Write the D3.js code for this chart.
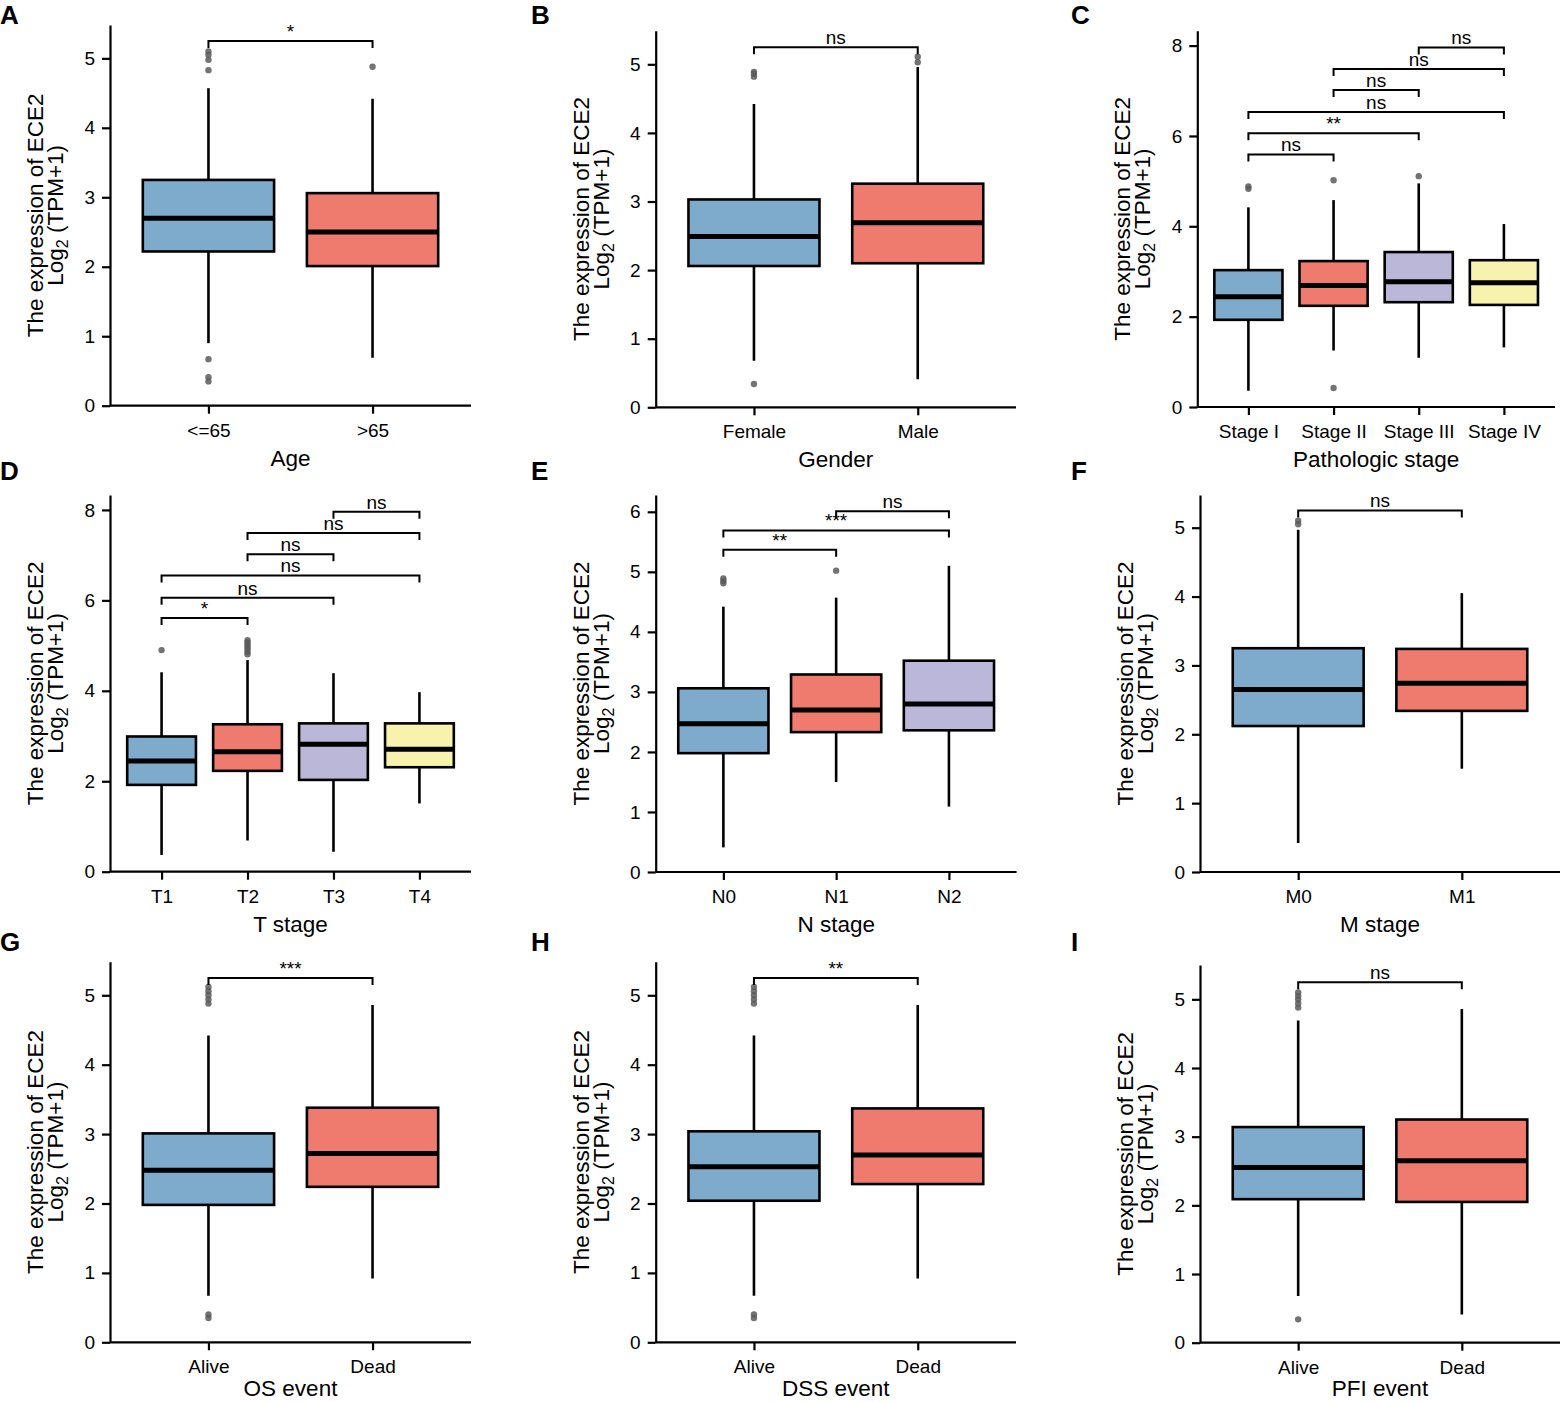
<!DOCTYPE html>
<html>
<head>
<meta charset="utf-8">
<script src="https://cdn.jsdelivr.net/npm/d3@7"></script>
<style>
  body { margin: 0; background: #fff; }
  text { font-family: "Liberation Sans", Arial, Helvetica, sans-serif; }
</style>
</head>
<body>
<script>
// box stats per group: [lower whisker, Q1, median, Q3, upper whisker]
// brackets: [group a, group b, label, y]

const ageCats = ["<=65", ">65"];
const ageBox = [[0.90, 2.22, 2.70, 3.25, 4.57], [0.69, 2.01, 2.50, 3.06, 4.42]];
const ageOut = [[5.10, 5.05, 4.98, 4.83, 0.67, 0.41, 0.35], [4.88]];
const ageSig = [[0, 1, "*", 5.25]];

const genderCats = ["Female", "Male"];
const genderBox = [[0.68, 2.06, 2.49, 3.03, 4.42], [0.41, 2.10, 2.69, 3.26, 4.96]];
const genderOut = [[4.89, 4.86, 4.82, 0.34], [5.11, 5.03]];
const genderSig = [[0, 1, "ns", 5.25]];

const stageCats = ["Stage I", "Stage II", "Stage III", "Stage IV"];
const stageBox = [[0.36, 1.93, 2.44, 3.03, 4.42], [1.25, 2.24, 2.69, 3.23, 4.58],
                  [1.09, 2.32, 2.77, 3.43, 4.95], [1.32, 2.26, 2.75, 3.25, 4.05]];
const stageOut = [[4.88, 4.83], [5.02, 0.42], [5.11], []];
const stageSig = [[0, 1, "ns", 5.59], [0, 2, "**", 6.06], [0, 3, "ns", 6.53],
                  [1, 2, "ns", 7.02], [1, 3, "ns", 7.48], [2, 3, "ns", 7.96]];

const tCats = ["T1", "T2", "T3", "T4"];
const tBox = [[0.37, 1.92, 2.45, 2.99, 4.41], [0.69, 2.23, 2.65, 3.26, 4.68],
              [0.44, 2.03, 2.82, 3.28, 4.39], [1.51, 2.31, 2.71, 3.28, 3.97]];
const tOut = [[4.90], [5.12, 5.07, 5.02, 4.97, 4.92, 4.86, 4.81], [], []];
const tSig = [[0, 1, "*", 5.61], [0, 2, "ns", 6.06], [0, 3, "ns", 6.55],
              [1, 2, "ns", 7.02], [1, 3, "ns", 7.49], [2, 3, "ns", 7.96]];

const nCats = ["N0", "N1", "N2"];
const nBox = [[0.41, 1.98, 2.47, 3.06, 4.42], [1.50, 2.33, 2.70, 3.29, 4.57], [1.09, 2.36, 2.80, 3.52, 5.10]];
const nOut = [[4.89, 4.85, 4.81], [5.02], []];
const nSig = [[0, 1, "**", 5.37], [0, 2, "***", 5.69], [1, 2, "ns", 6.01]];

const mCats = ["M0", "M1"];
const mBox = [[0.42, 2.12, 2.65, 3.25, 4.97], [1.50, 2.34, 2.74, 3.24, 4.05]];
const mOut = [[5.10, 5.05], []];
const mSig = [[0, 1, "ns", 5.25]];

const eventCats = ["Alive", "Dead"];
const osBox = [[0.67, 1.98, 2.48, 3.01, 4.42], [0.92, 2.24, 2.72, 3.38, 4.86]];
const osOut = [[5.12, 5.06, 5.00, 4.94, 4.88, 0.40, 0.35], []];
const osSig = [[0, 1, "***", 5.25]];

const dssBox = [[0.67, 2.04, 2.53, 3.04, 4.42], [0.92, 2.28, 2.70, 3.37, 4.86]];
const dssOut = [[5.12, 5.06, 5.00, 4.94, 4.88, 0.40, 0.35], []];
const dssSig = [[0, 1, "**", 5.25]];

const pfiBox = [[0.68, 2.09, 2.55, 3.14, 4.69], [0.41, 2.05, 2.65, 3.25, 4.86]];
const pfiOut = [[5.10, 5.05, 5.00, 4.94, 4.88, 0.34], []];
const pfiSig = [[0, 1, "ns", 5.25]];

const ticks5 = [0, 1, 2, 3, 4, 5];
const ticks6 = [0, 1, 2, 3, 4, 5, 6];
const ticks8 = [0, 2, 4, 6, 8];

const palette = ["#7EABCB", "#EF7B6F", "#BBB7D8", "#F7F3AF"];

const panels = [
  {letter: "A", title: "Age", cats: ageCats, box: ageBox, out: ageOut, sig: ageSig, ymax: 5.48, ticks: ticks5},
  {letter: "B", title: "Gender", cats: genderCats, box: genderBox, out: genderOut, sig: genderSig, ymax: 5.49, ticks: ticks5},
  {letter: "C", title: "Pathologic stage", cats: stageCats, box: stageBox, out: stageOut, sig: stageSig, ymax: 8.33, ticks: ticks8},
  {letter: "D", title: "T stage", cats: tCats, box: tBox, out: tOut, sig: tSig, ymax: 8.33, ticks: ticks8},
  {letter: "E", title: "N stage", cats: nCats, box: nBox, out: nOut, sig: nSig, ymax: 6.28, ticks: ticks6},
  {letter: "F", title: "M stage", cats: mCats, box: mBox, out: mOut, sig: mSig, ymax: 5.475, ticks: ticks5},
  {letter: "G", title: "OS event", cats: eventCats, box: osBox, out: osOut, sig: osSig, ymax: 5.484, ticks: ticks5},
  {letter: "H", title: "DSS event", cats: eventCats, box: dssBox, out: dssOut, sig: dssSig, ymax: 5.484, ticks: ticks5},
  {letter: "I", title: "PFI event", cats: eventCats, box: pfiBox, out: pfiOut, sig: pfiSig, ymax: 5.50, ticks: ticks5}
];

// plot frames (axis lines) and panel letter spots
const frames = [
  {left: 110, right: 471, top: 25, bottom: 405.7, lx: 0, ly: 24},
  {left: 655.7, right: 1016, top: 30.7, bottom: 407.3, lx: 531, ly: 24},
  {left: 1197.3, right: 1555, top: 30.7, bottom: 407, lx: 1071, ly: 24},
  {left: 110, right: 471, top: 495, bottom: 871.7, lx: 0, ly: 480},
  {left: 655.7, right: 1016.6, top: 495, bottom: 872, lx: 531, ly: 480},
  {left: 1200, right: 1560, top: 495, bottom: 872, lx: 1071, ly: 480},
  {left: 110, right: 471, top: 961.7, bottom: 1342.3, lx: 0, ly: 951},
  {left: 655.7, right: 1016, top: 961.7, bottom: 1342.3, lx: 531, ly: 951},
  {left: 1200, right: 1560, top: 965, bottom: 1342.7, lx: 1071, ly: 951}
];

const H = 1402;

const svg = d3.select("body").append("svg")
    .attr("width", 1561)
    .attr("height", H);

panels.forEach(function (p, k) {
    let f = frames[k];
    let g = svg.append("g");

    let x = d3.scalePoint().domain(p.cats).range([f.left, f.right]).padding(0.6);
    let y = d3.scaleLinear().domain([0, p.ymax]).range([f.bottom, f.top]);
    let bw = x.step() * 0.8;

    //whiskers
    g.selectAll(".whisker").data(p.box).enter().append("line")
        .attr("x1", (d, i) => x(p.cats[i]))
        .attr("x2", (d, i) => x(p.cats[i]))
        .attr("y1", d => y(d[0]))
        .attr("y2", d => y(d[4]))
        .attr("stroke", "#000")
        .attr("stroke-width", 2.6);

    //boxes
    g.selectAll(".box").data(p.box).enter().append("rect")
        .attr("x", (d, i) => x(p.cats[i]) - bw / 2)
        .attr("y", d => y(d[3]))
        .attr("width", bw)
        .attr("height", d => y(d[1]) - y(d[3]))
        .attr("fill", (d, i) => palette[i])
        .attr("stroke", "#000")
        .attr("stroke-width", 2.6);

    //medians
    g.selectAll(".median").data(p.box).enter().append("line")
        .attr("x1", (d, i) => x(p.cats[i]) - bw / 2)
        .attr("x2", (d, i) => x(p.cats[i]) + bw / 2)
        .attr("y1", d => y(d[2]))
        .attr("y2", d => y(d[2]))
        .attr("stroke", "#000")
        .attr("stroke-width", 5);

    //outliers
    let pts = [];
    p.out.forEach((arr, i) => arr.forEach(v => pts.push({c: p.cats[i], v: v})));
    g.selectAll(".outlier").data(pts).enter().append("circle")
        .attr("cx", d => x(d.c))
        .attr("cy", d => y(d.v))
        .attr("r", 3.2)
        .attr("fill", "#5a5a5a")
        .attr("fill-opacity", 0.85);

    //significance brackets
    let tip = 7;
    p.sig.forEach(function (s) {
        let x1 = x(p.cats[s[0]]), x2 = x(p.cats[s[1]]), yy = y(s[3]);
        g.append("path")
            .attr("d", `M${x1},${yy + tip}V${yy}H${x2}V${yy + tip}`)
            .attr("fill", "none")
            .attr("stroke", "#000")
            .attr("stroke-width", 2);
        g.append("text")
            .attr("x", (x1 + x2) / 2)
            .attr("y", yy - 3)
            .attr("text-anchor", "middle")
            .attr("font-size", 19)
            .text(s[2]);
    });

    //axes
    let yAxis = d3.axisLeft(y).tickValues(p.ticks).tickFormat(d3.format("d"))
        .tickSize(8).tickPadding(7).tickSizeOuter(0);
    let gy = g.append("g").attr("transform", `translate(${f.left},0)`).call(yAxis);
    let xAxis = d3.axisBottom(x).tickSize(8).tickPadding(9.5).tickSizeOuter(0);
    let gx = g.append("g").attr("transform", `translate(0,${f.bottom})`).call(xAxis);
    [gy, gx].forEach(function (a) {
        a.attr("font-family", null).attr("font-size", 19);
        a.selectAll("path, line").attr("stroke", "#000").attr("stroke-width", 2.2);
        a.selectAll("text").attr("fill", "#000");
    });
    gx.select(".domain").attr("d", `M${f.left},0H${f.right}`);

    //axis titles
    let cy = (f.top + f.bottom) / 2;
    g.append("text")
        .attr("transform", `translate(${f.left - 67},${cy}) rotate(-90)`)
        .attr("text-anchor", "middle")
        .attr("font-size", 22.5)
        .text("The expression of ECE2");
    let t2 = g.append("text")
        .attr("transform", `translate(${f.left - 47},${cy}) rotate(-90)`)
        .attr("text-anchor", "middle")
        .attr("font-size", 22.5);
    t2.append("tspan").text("Log");
    t2.append("tspan").attr("font-size", 16).attr("dy", 5).text("2");
    t2.append("tspan").attr("dy", -5).text(" (TPM+1)");

    g.append("text")
        .attr("x", (f.left + f.right) / 2)
        .attr("y", Math.min(f.bottom + 60, H - 6))
        .attr("text-anchor", "middle")
        .attr("font-size", 22.5)
        .text(p.title);

    //panel letter
    svg.append("text")
        .attr("x", f.lx)
        .attr("y", f.ly)
        .attr("font-size", 26)
        .attr("font-weight", "bold")
        .text(p.letter);
});
</script>
</body>
</html>
